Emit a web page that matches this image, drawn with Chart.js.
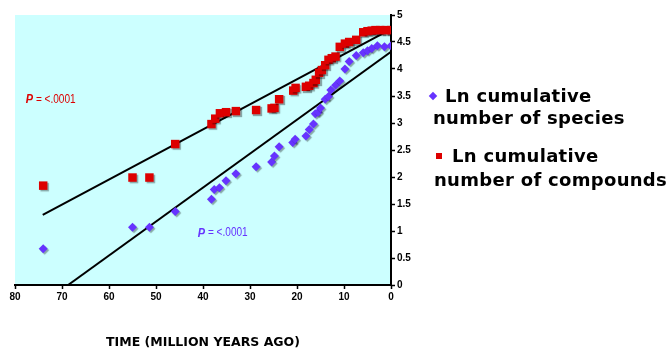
<!DOCTYPE html>
<html>
<head>
<meta charset="utf-8">
<script src="https://cdn.jsdelivr.net/npm/chart.js@4.4.1/dist/chart.umd.min.js"></script>
<style>
  body { margin: 0; background: #fff; }
  #wrap { position: relative; width: 671px; height: 349px; }
  .leg { position: absolute; font-family: "DejaVu Sans", Arial, sans-serif; font-weight: bold; font-size: 18px; color: #000; white-space: nowrap; line-height: 22px; letter-spacing: 0.3px; }
  .mk { position: absolute; }
</style>
</head>
<body>
<div id="wrap">
  <canvas id="chart-time" width="671" height="349"></canvas>
  <div class="mk" style="left:430px;top:93px;width:6px;height:6px;background:#6633ff;transform:rotate(45deg);"></div>
  <div class="leg" style="left:445px;top:85px;">Ln cumulative</div>
  <div class="leg" style="left:433px;top:107px;">number of species</div>
  <div class="mk" style="left:436px;top:153px;width:6px;height:6px;background:#dd0000;"></div>
  <div class="leg" style="left:452px;top:145px;">Ln cumulative</div>
  <div class="leg" style="left:434px;top:169px;">number of compounds</div>
</div>
<script>
// compounds (red squares)
var compoundTimes = [74.0, 55.0, 51.4, 45.9, 38.2, 37.4, 36.4, 35.1, 33.0, 28.7, 25.4, 24.8, 23.8, 20.8, 20.3, 18.1, 17.4, 16.5, 16.0, 15.3, 14.7, 14.0, 13.3, 12.6, 11.8, 10.9, 9.8, 8.9, 7.4, 5.9, 5.0, 4.1, 3.3, 2.3, 1.1, 0];
var compoundLn = [1.84, 1.99, 1.99, 2.61, 2.98, 3.08, 3.18, 3.20, 3.22, 3.24, 3.27, 3.28, 3.44, 3.60, 3.65, 3.67, 3.69, 3.74, 3.80, 3.93, 3.98, 4.07, 4.17, 4.20, 4.23, 4.41, 4.47, 4.50, 4.54, 4.68, 4.70, 4.71, 4.72, 4.72, 4.72, 4.72];

// species (purple diamonds)
var speciesTimes = [74.0, 55.0, 51.4, 45.9, 38.2, 37.6, 36.5, 35.1, 33.0, 28.7, 25.4, 24.8, 23.8, 20.9, 20.4, 18.1, 17.4, 16.5, 16.1, 15.5, 15.0, 14.0, 13.3, 12.8, 11.8, 10.9, 9.8, 8.9, 7.4, 5.9, 5.0, 4.1, 2.9, 1.4, 0];
var speciesLn = [0.67, 1.07, 1.07, 1.36, 1.59, 1.77, 1.80, 1.93, 2.06, 2.19, 2.28, 2.39, 2.56, 2.64, 2.70, 2.76, 2.88, 2.98, 3.17, 3.20, 3.28, 3.44, 3.49, 3.61, 3.70, 3.78, 4.00, 4.14, 4.25, 4.30, 4.34, 4.38, 4.43, 4.41, 4.43];

// regression lines
var compoundFitTimes = [74.1, 0];
var compoundFit = [1.30, 4.74];
var speciesFitTimes = [68.7, 0];
var speciesFit = [0, 4.32];

var xTicks = [80, 70, 60, 50, 40, 30, 20, 10, 0];

// p value labels [time, ln]
var pLabels = [
    { t: 77.7, v: 3.44, color: '#dd0000' },
    { t: 41.1, v: 0.96, color: '#6633ff' }
];

function toPoints(xs, ys) {
    return xs.map(function (x, i) { return { x: x, y: ys[i] }; });
}

var plotBg = {
    id: 'plotBg',
    beforeDraw: function (chart) {
        var a = chart.chartArea, ctx = chart.ctx;
        ctx.save();
        ctx.fillStyle = '#ccffff';
        ctx.fillRect(a.left, a.top, a.right - a.left, a.bottom - a.top);
        ctx.restore();
    },
    beforeDatasetDraw: function (chart, args) {
        var ctx = chart.ctx;
        ctx.save();
        if (args.index < 2) {
            ctx.shadowColor = 'rgba(0,0,0,0.35)';
            ctx.shadowOffsetX = 1.5;
            ctx.shadowOffsetY = 1.5;
            ctx.shadowBlur = 1;
        }
    },
    afterDatasetDraw: function (chart) {
        chart.ctx.restore();
    },
    afterDraw: function (chart) {
        var ctx = chart.ctx;
        var xs = chart.scales.x, ys = chart.scales.y;
        pLabels.forEach(function (p) {
            var px = xs.getPixelForValue(p.t);
            var py = ys.getPixelForValue(p.v);
            ctx.save();
            ctx.translate(px, py);
            ctx.scale(0.84, 1);  // condensed look
            ctx.textBaseline = 'middle';
            ctx.textAlign = 'left';
            ctx.fillStyle = p.color;
            ctx.font = 'italic bold 13px "Liberation Sans", Arial';
            ctx.fillText('P', 0, 0);
            var w = ctx.measureText('P').width;
            ctx.font = '12px "Liberation Sans", Arial';
            ctx.fillText(' = <.0001', w, 0);
            ctx.restore();
        });
    }
};

var ctx = document.getElementById('chart-time').getContext('2d');

new Chart(ctx, {
    type: 'scatter',
    data: {
        datasets: [{
            label: 'Ln cumulative number of species',
            data: toPoints(speciesTimes, speciesLn),
            pointStyle: 'rectRot',
            pointRadius: 4.5,
            pointBackgroundColor: '#6633ff',
            pointBorderColor: '#6633ff',
            pointBorderWidth: 0
        }, {
            label: 'Ln cumulative number of compounds',
            data: toPoints(compoundTimes, compoundLn),
            pointStyle: 'rect',
            pointRadius: 6,
            pointBackgroundColor: '#dd0000',
            pointBorderColor: '#dd0000',
            pointBorderWidth: 0
        }, {
            label: 'compound fit',
            data: toPoints(compoundFitTimes, compoundFit),
            showLine: true,
            borderColor: '#000',
            borderWidth: 2,
            pointRadius: 0
        }, {
            label: 'species fit',
            data: toPoints(speciesFitTimes, speciesFit),
            showLine: true,
            borderColor: '#000',
            borderWidth: 2,
            pointRadius: 0
        }]
    },
    options: {
        responsive: false,
        animation: false,
        layout: {
            padding: { left: 15, top: 15, right: 250, bottom: 0 }
        },
        plugins: {
            legend: { display: false },
            tooltip: { enabled: false }
        },
        scales: {
            x: {
                type: 'linear',
                min: 0,
                max: 80,
                reverse: true,
                afterFit: function (scale) { scale.height = 64; },
                afterBuildTicks: function (scale) {
                    scale.ticks = xTicks.map(function (v) { return { value: v }; });
                },
                border: { display: true, color: '#000', width: 2 },
                grid: {
                    display: true,
                    drawOnChartArea: false,
                    drawTicks: true,
                    tickLength: 4,
                    tickWidth: 1.5,
                    tickColor: '#000'
                },
                ticks: {
                    color: '#000',
                    padding: 2,
                    maxRotation: 0,
                    font: { family: '"Liberation Sans Narrow", "Liberation Sans", Arial', size: 10, weight: 'bold' }
                },
                title: {
                    display: true,
                    text: 'TIME (MILLION YEARS AGO)',
                    color: '#000',
                    align: 'center',
                    padding: { top: 0, bottom: -1 },
                    font: { family: '"DejaVu Sans", Arial', size: 12.5, weight: 'bold' }
                }
            },
            y: {
                type: 'linear',
                position: 'right',
                min: 0,
                max: 5,
                afterFit: function (scale) { scale.width = 30; },
                border: { display: true, color: '#000', width: 2 },
                grid: {
                    display: true,
                    drawOnChartArea: false,
                    drawTicks: true,
                    tickLength: 4,
                    tickWidth: 1.5,
                    tickColor: '#000'
                },
                ticks: {
                    stepSize: 0.5,
                    color: '#000',
                    padding: 2,
                    callback: function (v) { return String(Math.round(v * 10) / 10); },
                    font: { family: '"Liberation Sans Narrow", "Liberation Sans", Arial', size: 10, weight: 'bold' }
                }
            }
        }
    },
    plugins: [plotBg]
});
</script>
</body>
</html>
